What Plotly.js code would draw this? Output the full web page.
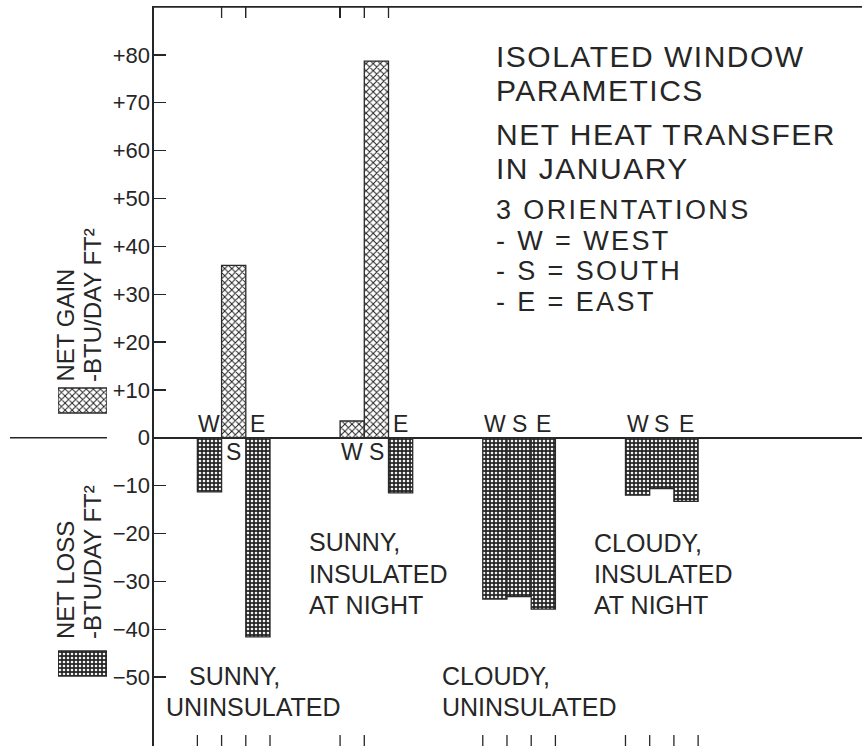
<!DOCTYPE html>
<html>
<head>
<meta charset="utf-8">
<script src="https://cdn.plot.ly/plotly-3.0.1.min.js"></script>
<style>html,body{margin:0;padding:0;background:#fff}#chart{width:862px;height:746px}</style>
</head>
<body>
<div id="chart"></div>
<script>
// ---------------- data ----------------
const groups = [1, 2, 3, 4];
const groupNames = ["SUNNY, UNINSULATED", "SUNNY, INSULATED AT NIGHT", "CLOUDY, UNINSULATED", "CLOUDY, INSULATED AT NIGHT"];
const orientations = ["W", "S", "E"];
const westVals  = [-11.3, 3.5, -33.7, -12.0];
const southVals = [36.0, 78.7, -33.2, -10.6];
const eastVals  = [-41.6, -11.5, -35.8, -13.3];
const yTickVals = [-50, -40, -30, -20, -10, 0, 10, 20, 30, 40, 50, 60, 70, 80];
const yTickText = ["\u221250", "\u221240", "\u221230", "\u221220", "\u221210", "0", "+10", "+20", "+30", "+40", "+50", "+60", "+70", "+80"];
// bar-edge tick marks (edge index 0..3 within each group)
const topTickGroups = [1, 1, 2, 2, 2];
const topTickEdges  = [1, 2, 0, 1, 2];
const bottomTickGroups = [1, 1, 1, 1, 2, 2, 3, 3, 3, 3, 4, 4, 4, 4];
const bottomTickEdges  = [0, 1, 2, 3, 0, 1, 0, 1, 2, 3, 0, 1, 2, 3];
const titleLines = ["ISOLATED WINDOW", "PARAMETICS", "NET HEAT TRANSFER", "IN JANUARY", "3 ORIENTATIONS", "- W = WEST", "- S = SOUTH", "- E = EAST"];
const gainTitle = ["NET GAIN", "-BTU/DAY FT\u00b2"];
const lossTitle = ["NET LOSS", "-BTU/DAY FT\u00b2"];

// ---------------- layout helpers ----------------
const W = 862, H = 746;
const px = x => x / W;
const py = y => 1 - y / H;
const FONT = "Liberation Sans, Arial, Helvetica, sans-serif";
const INK = "#262626";
const bargap = 0.491;
const barW = (1 - bargap) / 3;
const xRange = [0.4415, 5.403];
const yRange = [-64.4, 90.0];
const frameTop = 7;

const edge = (g, k) => g + (k - 1.5) * barW;

function patternFor(vals) {
  return {
    shape: vals.map(v => v >= 0 ? "x" : "."),
    fgcolor: vals.map(v => v >= 0 ? "#1e1e1e" : "#f4f4f4"),
    bgcolor: vals.map(v => v >= 0 ? "#ffffff" : "#262626"),
    size: vals.map(v => v >= 0 ? 5 : 4),
    solidity: vals.map(v => v >= 0 ? 0.35 : 0.34),
    fillmode: "replace"
  };
}

const series = [westVals, southVals, eastVals];
const traces = series.map((vals, i) => ({
  type: "bar",
  name: orientations[i],
  x: groups,
  y: vals,
  xaxis: "x",
  yaxis: "y",
  marker: { color: "#ffffff", line: { color: "#2a2a2a", width: 1.3 }, pattern: patternFor(vals) },
  hoverinfo: "skip",
  showlegend: false
}));

// legend key swatches (drawn on a pixel-mapped helper axis)
traces.push({
  type: "bar", x: [0.5, 0.5], y: [25, 25], base: [388, 651], width: [1, 1],
  xaxis: "x3", yaxis: "y3", showlegend: false, hoverinfo: "skip",
  marker: { color: "#ffffff", line: { color: "#2a2a2a", width: 1.3 },
    pattern: patternFor([1, -1]) }
});

// ---------------- annotations ----------------
const annotations = [];
series.forEach((vals, i) => {
  vals.forEach((v, gi) => {
    annotations.push({
      xref: "x", yref: "y", x: groups[gi] + (i - 1) * barW, y: v < 0 ? 2.9 : -3.0,
      text: orientations[i], showarrow: false, xanchor: "center", yanchor: "middle",
      font: { family: FONT, size: 23, color: INK }
    });
  });
});
const titleY = [56, 91, 134, 168, 210, 240.5, 271, 301.5];
const titleSize = [30, 30, 30, 30, 27, 27, 27, 27];
const titleSpacing = [1.5, 1.5, 1.5, 1.5, 2.4, 2.4, 2.4, 2.4];
titleLines.forEach((t, i) => annotations.push({
  xref: "paper", yref: "paper", x: px(494), y: py(titleY[i]),
  text: '<span style="letter-spacing:' + titleSpacing[i] + 'px">' + t + '</span>', showarrow: false,
  xanchor: "left", yanchor: "middle", font: { family: FONT, size: titleSize[i], color: INK }
}));
const labelSpec = [
  { lines: ["SUNNY,", "UNINSULATED"], xs: [187, 164], ys: [676, 707] },
  { lines: ["SUNNY,", "INSULATED", "AT NIGHT"], xs: [307, 307, 307], ys: [542, 574, 605] },
  { lines: ["CLOUDY,", "UNINSULATED"], xs: [440, 440], ys: [676, 707] },
  { lines: ["CLOUDY,", "INSULATED", "AT NIGHT"], xs: [592, 592, 592], ys: [543, 574, 605] }
];
labelSpec.forEach(s => s.lines.forEach((t, i) => annotations.push({
  xref: "paper", yref: "paper", x: px(s.xs[i]), y: py(s.ys[i]), text: t, showarrow: false,
  xanchor: "left", yanchor: "middle", font: { family: FONT, size: 25, color: INK }
})));
const titleCols = [65, 92];
[[gainTitle, 384], [lossTitle, 641]].forEach(([lines, yb]) => {
  lines.forEach((t, i) => annotations.push({
    xref: "paper", yref: "paper", x: px(titleCols[i]), y: py(yb), text: t, textangle: -90,
    showarrow: false, xanchor: "center", yanchor: "bottom",
    font: { family: FONT, size: 24, color: INK }
  }));
});

// frame: top border line, tick marks at bar edges, zero-line stub
const tickLine = { color: INK, width: 1.3 };
const shapes = [];
shapes.push({ type: "line", layer: "above", xref: "paper", yref: "paper", x0: px(154), x1: 1,
  y0: py(frameTop), y1: py(frameTop), line: { color: INK, width: 1.6 } });
topTickGroups.forEach((g, i) => {
  const xv = edge(g, topTickEdges[i]);
  shapes.push({ type: "line", layer: "above", xref: "x", yref: "paper", x0: xv, x1: xv,
    y0: py(frameTop), y1: py(frameTop + 11), line: tickLine });
});
bottomTickGroups.forEach((g, i) => {
  const xv = edge(g, bottomTickEdges[i]);
  shapes.push({ type: "line", xref: "x", yref: "paper", x0: xv, x1: xv,
    y0: 0, y1: 11 / H, line: tickLine });
});
shapes.push({ type: "line", xref: "paper", yref: "y", x0: px(10), x1: px(107), y0: 0, y1: 0,
  line: { color: INK, width: 1.5 } });

const layout = {
  width: W, height: H,
  margin: { l: 0, r: 0, t: 0, b: 0 },
  barmode: "group", bargap: bargap, bargroupgap: 0,
  showlegend: false,
  xaxis: {
    domain: [px(154), 1], range: xRange, anchor: "y", side: "top",
    showline: true, linecolor: INK, linewidth: 1.5, showgrid: false, zeroline: false, showticklabels: false,
    ticks: "inside", ticklen: 11, tickwidth: 1.3, tickcolor: INK,
    tickmode: "array", tickvals: topTickGroups.map((g, i) => edge(g, topTickEdges[i]))
  },
  yaxis: {
    domain: [0, py(frameTop)], range: yRange, anchor: "x",
    showline: true, linecolor: INK, linewidth: 1.6, showgrid: false,
    zeroline: true, zerolinecolor: INK, zerolinewidth: 1.5,
    ticks: "inside", ticklen: 12, tickwidth: 1.3, tickcolor: INK,
    tickmode: "array", tickvals: yTickVals, ticktext: yTickText,
    tickfont: { family: FONT, size: 22, color: INK },
    ticklabelstandoff: -2
  },
  xaxis3: { domain: [px(58), px(107)], range: [0, 1], anchor: "y3", visible: false },
  yaxis3: { domain: [0, 1], range: [H, 0], anchor: "x3", visible: false },
  shapes: shapes,
  annotations: annotations
};

Plotly.newPlot("chart", traces, layout, { displayModeBar: false, staticPlot: true });
</script>
</body>
</html>
